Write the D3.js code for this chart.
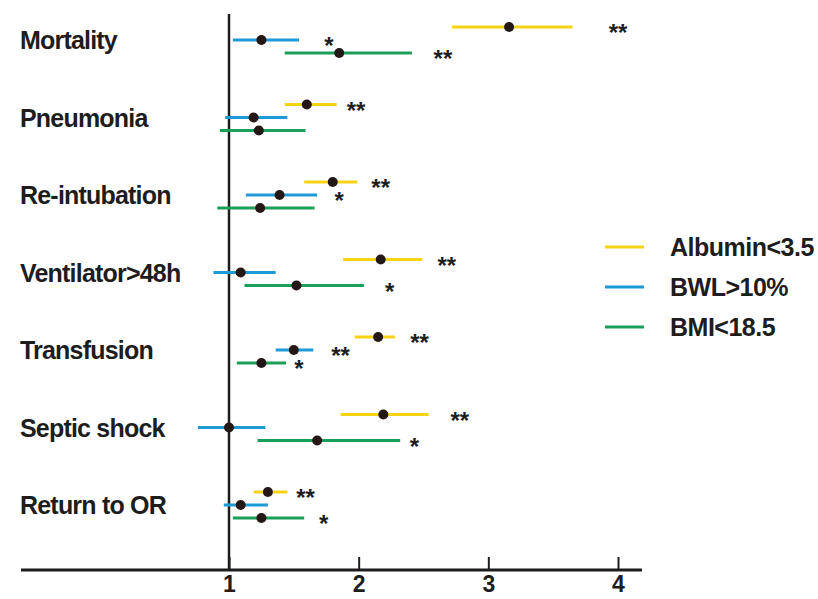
<!DOCTYPE html>
<html>
<head>
<meta charset="utf-8">
<script src="https://cdn.jsdelivr.net/npm/d3@7"></script>
<style>
  html, body { margin: 0; padding: 0; background: #fff; }
  svg { display: block; }
  text { font-family: "Liberation Sans", Arial, sans-serif; fill: #1d1d1d; }
</style>
</head>
<body>
<svg id="chart" width="818" height="599"></svg>
<script>
// ---- data ----
const categories = ["Mortality", "Pneumonia", "Re-intubation", "Ventilator>48h", "Transfusion", "Septic shock", "Return to OR"];
const seriesNames = ["Albumin<3.5", "BWL>10%", "BMI<18.5"];

const albuminOR   = [3.16, 1.60, 1.80, 2.17, 2.15, 2.19, 1.30];
const albuminLow  = [2.72, 1.43, 1.58, 1.88, 1.97, 1.86, 1.19];
const albuminHigh = [3.65, 1.83, 1.99, 2.49, 2.28, 2.54, 1.45];
const albuminSig  = ["**", "**", "**", "**", "**", "**", "**"];
const albuminSigAt = [4.00, 1.98, 2.17, 2.68, 2.47, 2.78, 1.59];

const bwlOR   = [1.25, 1.19, 1.39, 1.09, 1.50, 1.00, 1.09];
const bwlLow  = [1.03, 0.97, 1.13, 0.88, 1.36, 0.76, 0.96];
const bwlHigh = [1.54, 1.45, 1.68, 1.36, 1.65, 1.28, 1.30];
const bwlSig  = ["*", "", "*", "", "**", "", ""];
const bwlSigAt = [1.77, null, 1.85, null, 1.86, null, null];

const bmiOR   = [1.85, 1.23, 1.24, 1.52, 1.25, 1.68, 1.25];
const bmiLow  = [1.43, 0.93, 0.91, 1.12, 1.06, 1.22, 1.03];
const bmiHigh = [2.41, 1.59, 1.66, 2.04, 1.44, 2.32, 1.58];
const bmiSig  = ["**", "", "", "*", "*", "*", "*"];
const bmiSigAt = [2.65, null, null, 2.24, 1.54, 2.43, 1.73];

const xTicks = [1, 2, 3, 4];

// ---- styling / layout ----
const colors = ["#f5d416", "#1d9ad6", "#1a9f5b"];
const dotColor = "#231815";
const inkColor = "#1d1d1d";

const svg = d3.select("#chart");

const x = d3.scaleLinear().domain([1, 4]).range([229, 618]);
const y = d3.scalePoint().domain(categories).range([40, 505]);
const offset = d3.scalePoint().domain(seriesNames).range([-13, 13]);

const series = [
  { name: seriesNames[0], or: albuminOR, lo: albuminLow, hi: albuminHigh, sig: albuminSig, sigAt: albuminSigAt },
  { name: seriesNames[1], or: bwlOR, lo: bwlLow, hi: bwlHigh, sig: bwlSig, sigAt: bwlSigAt },
  { name: seriesNames[2], or: bmiOR, lo: bmiLow, hi: bmiHigh, sig: bmiSig, sigAt: bmiSigAt }
];

// axis baseline
const axisY = 570;
svg.append("line")
  .attr("x1", 21).attr("x2", 642)
  .attr("y1", axisY).attr("y2", axisY)
  .attr("stroke", inkColor).attr("stroke-width", 3);

// reference line at 1
svg.append("line")
  .attr("x1", x(1)).attr("x2", x(1))
  .attr("y1", 14).attr("y2", axisY)
  .attr("stroke", inkColor).attr("stroke-width", 2.5);

// ticks via d3 axis
const axisG = svg.append("g")
  .attr("transform", `translate(0,${axisY})`)
  .call(d3.axisBottom(x).tickValues(xTicks).tickSize(-13).tickPadding(0).tickFormat(d3.format("d")));
axisG.select(".domain").remove();
axisG.selectAll(".tick line").attr("stroke", inkColor).attr("stroke-width", 2);
axisG.selectAll(".tick text")
  .attr("y", 22).attr("dy", null)
  .style("font-family", '"Liberation Sans", Arial, sans-serif')
  .style("font-size", "23px").style("font-weight", "bold")
  .attr("fill", inkColor);

// category labels
svg.append("g").selectAll("text")
  .data(categories)
  .join("text")
  .attr("x", 20)
  .attr("y", d => y(d) + 9)
  .attr("font-size", 25)
  .attr("font-weight", "bold")
  .attr("letter-spacing", -0.8)
  .text(d => d);

// series
series.forEach((s, si) => {
  const g = svg.append("g");
  const rows = categories.map((c, i) => ({ c, i, or: s.or[i], lo: s.lo[i], hi: s.hi[i], sig: s.sig[i], sigAt: s.sigAt[i] }));
  g.selectAll("line.ci")
    .data(rows)
    .join("line")
    .attr("class", "ci")
    .attr("x1", d => x(d.lo)).attr("x2", d => x(d.hi))
    .attr("y1", d => y(d.c) + offset(s.name))
    .attr("y2", d => y(d.c) + offset(s.name))
    .attr("stroke", colors[si]).attr("stroke-width", 3);
  g.selectAll("circle")
    .data(rows)
    .join("circle")
    .attr("cx", d => x(d.or))
    .attr("cy", d => y(d.c) + offset(s.name))
    .attr("r", 5)
    .attr("fill", dotColor);
  g.selectAll("text.sig")
    .data(rows.filter(d => d.sig))
    .join("text")
    .attr("class", "sig")
    .attr("x", d => x(d.sigAt))
    .attr("y", d => y(d.c) + offset(s.name) + 14)
    .attr("text-anchor", "middle")
    .attr("font-size", 24)
    .attr("font-weight", "bold")
    .text(d => d.sig);
});

// legend
const legend = svg.append("g");
const ly = d3.scalePoint().domain(seriesNames).range([247, 327]);
seriesNames.forEach((n, i) => {
  legend.append("line")
    .attr("x1", 605).attr("x2", 644)
    .attr("y1", ly(n)).attr("y2", ly(n))
    .attr("stroke", colors[i]).attr("stroke-width", 3);
  legend.append("text")
    .attr("x", 670).attr("y", ly(n) + 9)
    .attr("font-size", 25).attr("font-weight", "bold")
    .attr("letter-spacing", -0.5)
    .text(n);
});
</script>
</body>
</html>
